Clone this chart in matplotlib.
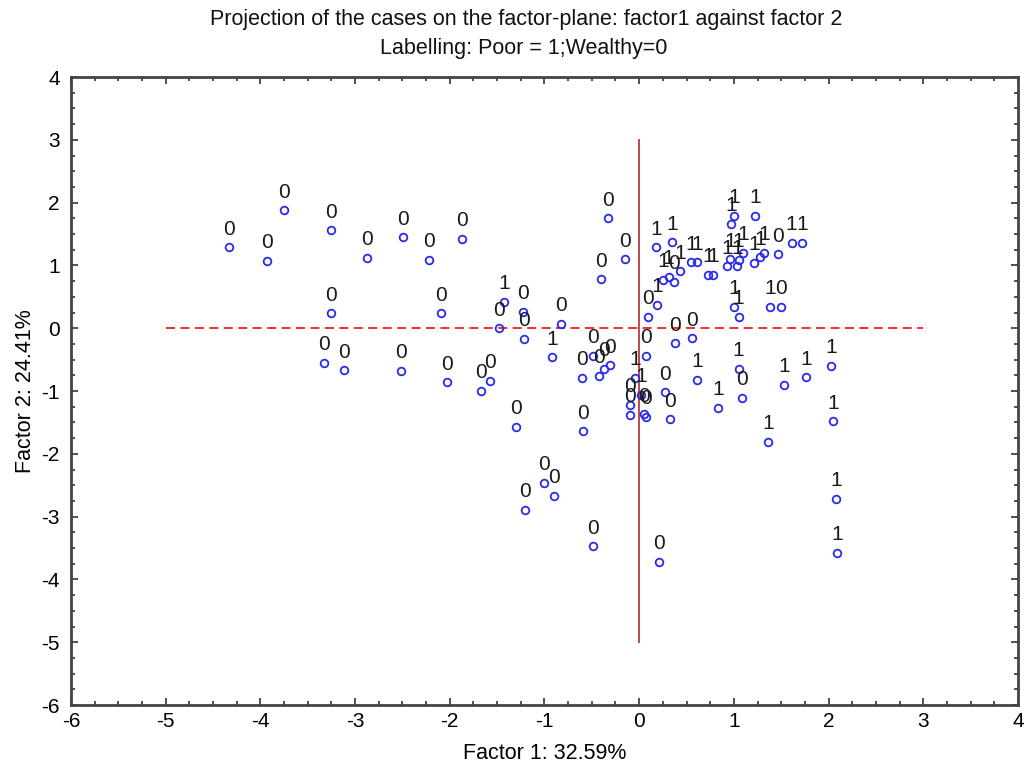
import matplotlib
matplotlib.use("Agg")
import matplotlib.pyplot as plt
from matplotlib.ticker import MultipleLocator

plt.rcParams['font.family'] = ['Liberation Sans', 'DejaVu Sans']
plt.rcParams['axes.unicode_minus'] = False

# factor scores
factor1 = [-4.33, -3.93, -3.75, -3.25, -2.87, -2.49, -2.22, -1.87, -3.25, -2.09,
           -3.33, -3.12, -2.52, -2.03, -1.67, -1.57, -1.43, -1.48, -1.23, -1.22,
           -0.83, -0.92, -1.30, -0.59, -0.60, -0.49, -0.42, -0.37, -0.31, -0.33,
           -0.15, -0.40, -1.21, -1.00, -0.90, -0.49, 0.21, -0.04, 0.02, -0.10,
           -0.10, 0.07, 0.05, 0.27, 0.33, 0.07, 0.09, 0.19, 0.38, 0.56,
           0.61, 1.05, 1.09, 0.83, 1.36, 1.53, 1.76, 2.03, 2.05, 2.08,
           2.09, 0.18, 0.35, 0.25, 0.31, 0.37, 0.43, 0.55, 0.61, 0.73,
           0.78, 1.00, 0.97, 1.22, 0.93, 0.96, 1.03, 1.05, 1.10, 1.21,
           1.28, 1.32, 1.47, 1.61, 1.72, 1.00, 1.05, 1.38, 1.50]
factor2 = [1.29, 1.07, 1.88, 1.56, 1.12, 1.45, 1.09, 1.42, 0.24, 0.24,
           -0.55, -0.67, -0.68, -0.86, -1.00, -0.84, 0.42, 0.00, 0.26, -0.17,
           0.07, -0.46, -1.57, -1.64, -0.79, -0.44, -0.76, -0.65, -0.59, 1.75,
           1.10, 0.78, -2.89, -2.46, -2.67, -3.47, -3.72, -0.79, -1.06, -1.22,
           -1.38, -1.41, -1.37, -1.02, -1.45, -0.44, 0.18, 0.37, -0.24, -0.16,
           -0.82, -0.65, -1.11, -1.27, -1.81, -0.90, -0.78, -0.60, -1.48, -2.72,
           -3.58, 1.29, 1.37, 0.77, 0.82, 0.74, 0.91, 1.05, 1.05, 0.85,
           0.85, 1.79, 1.66, 1.79, 0.99, 1.10, 0.99, 1.09, 1.20, 1.04,
           1.13, 1.20, 1.18, 1.36, 1.36, 0.34, 0.18, 0.34, 0.34]
poor = [0, 0, 0, 0, 0, 0, 0, 0, 0, 0,
        0, 0, 0, 0, 0, 0, 1, 0, 0, 0,
        0, 1, 0, 0, 0, 0, 0, 0, 0, 0,
        0, 0, 0, 0, 0, 0, 0, 1, 1, 0,
        0, 0, 0, 0, 0, 0, 0, 1, 0, 0,
        1, 1, 0, 1, 1, 1, 1, 1, 1, 1,
        1, 1, 1, 1, 1, 0, 1, 1, 1, 1,
        1, 1, 1, 1, 1, 1, 1, 1, 1, 1,
        1, 1, 0, 1, 1, 1, 1, 1, 0]

fig = plt.figure(figsize=(10.24, 7.68), dpi=100)
ax = fig.add_axes([0.0693, 0.082, 0.9248, 0.8177])

ax.plot([-5, 3], [0, 0], color='#ee2020', lw=1.3, linestyle=(0, (5, 3)))
ax.plot([0, 0], [-5, 3], color='#b83a3a', lw=1.3)

ax.plot(factor1, factor2, linestyle='none', marker='o', ms=5.5,
        mfc='none', mec='#2a2aee', mew=1.3)
for x, y, lab in zip(factor1, factor2, poor):
    ax.annotate(str(lab), (x, y), xytext=(0, 13), textcoords='offset points',
                ha='center', va='center', fontsize=15, color='#1a1a1a')

ax.set_xlim(-6, 4)
ax.set_ylim(-6, 4)
ax.xaxis.set_major_locator(MultipleLocator(1))
ax.yaxis.set_major_locator(MultipleLocator(1))
ax.xaxis.set_minor_locator(MultipleLocator(0.25))
ax.yaxis.set_minor_locator(MultipleLocator(0.25))
ax.tick_params(which='both', direction='in', top=True, right=True,
               color='#333333', width=1.2)
ax.tick_params(which='major', length=5, labelsize=15, pad=5)
ax.tick_params(axis='y', which='major', pad=8)
ax.tick_params(which='minor', length=3)
for s in ax.spines.values():
    s.set_linewidth(2)
    s.set_color('#444444')

ax.set_xlabel('Factor 1: 32.59%', fontsize=15.5, labelpad=9)
ax.set_ylabel('Factor 2: 24.41%', fontsize=15.5, labelpad=4)
fig.text(0.514, 0.975, 'Projection of the cases on the factor-plane: factor1 against factor 2',
         ha='center', va='center', fontsize=15.5, color='#111111')
fig.text(0.511, 0.937, 'Labelling: Poor = 1;Wealthy=0', ha='center', va='center',
         fontsize=15.5, color='#111111')

fig.savefig('out.png', dpi=100)
